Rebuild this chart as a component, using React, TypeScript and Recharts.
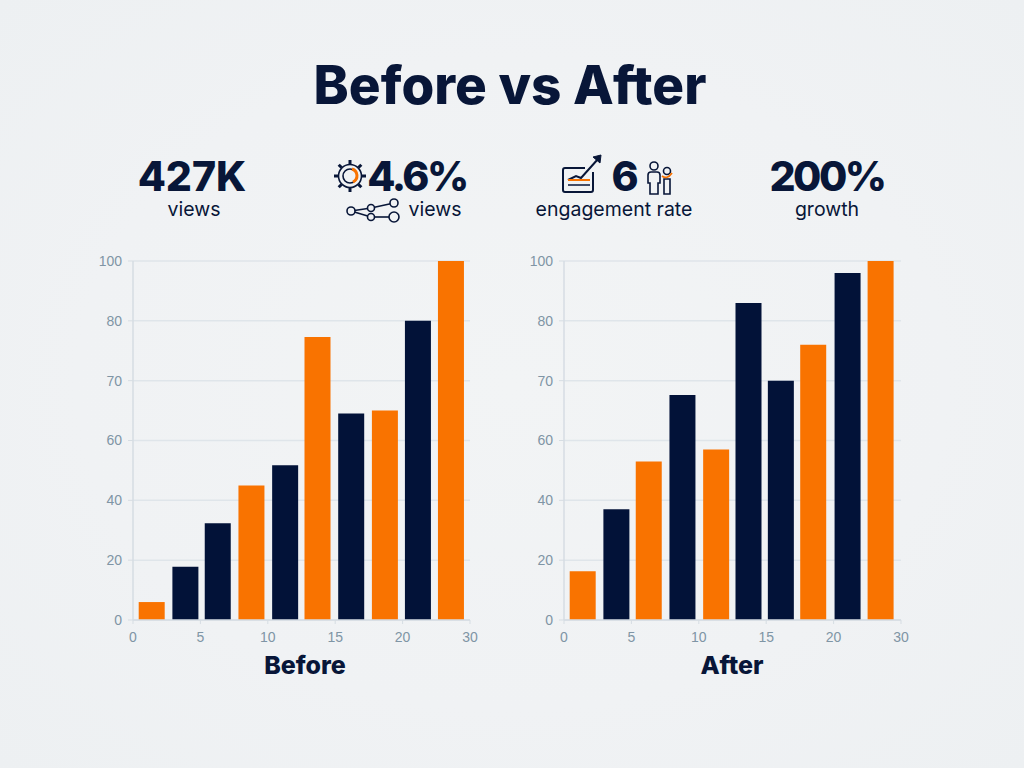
import React from "react";
import { BarChart, Bar, XAxis, YAxis, CartesianGrid, Cell } from "recharts";

const NAVY = "#021238";
const ORANGE = "#f97300";
const INK = "#081638";

const yTickLabels = [0, 20, 40, 60, 70, 80, 100];
const xTickLabels = [0, 5, 10, 15, 20, 30];
const beforeBins = [1.4, 3.9, 6.3, 8.8, 11.3, 13.7, 16.2, 18.7, 22.3, 27.2];
const afterBins = [1.4, 3.9, 6.3, 8.8, 11.3, 13.7, 16.1, 18.5, 22.1, 27.0];
const beforeValues = [6, 17.8, 32.3, 45, 51.7, 77.3, 64.5, 65, 80, 100];
const afterValues = [16.3, 37, 53, 67.6, 57, 86, 70, 76, 96, 100];
const beforeKinds = ["o", "n", "n", "o", "n", "o", "n", "o", "n", "o"];
const afterKinds = ["o", "n", "o", "n", "o", "n", "n", "o", "n", "o"];

// The reference's axes are evenly spaced but their labels are not, so values map piecewise.
const toSlot = (labels: number[], v: number) => {
  for (let i = 1; i < labels.length; i++) {
    if (v <= labels[i]) return i - 1 + (v - labels[i - 1]) / (labels[i] - labels[i - 1]);
  }
  return labels.length - 1;
};

const tableOf = (bins: number[], values: number[], kinds: string[]) =>
  values.map((v, i) => ({
    x: toSlot(xTickLabels, bins[i]),
    y: toSlot(yTickLabels, v),
    kind: kinds[i],
  }));

const tickStyle = { fontFamily: "'Liberation Sans', Arial, sans-serif", fontSize: 14, fill: "#7f95a5" };
const axisLine = { stroke: "#d6dde3", strokeWidth: 1.5 };

function Panel({ left, bins, values, kinds }: { left: number; bins: number[]; values: number[]; kinds: string[] }) {
  return (
    <div style={{ position: "absolute", left, top: 250 }}>
      <BarChart
        width={400}
        height={400}
        data={tableOf(bins, values, kinds)}
        margin={{ top: 11, right: 10, bottom: 0, left: 0 }}
      >
        <CartesianGrid vertical={false} stroke="#dfe5ea" strokeWidth={1.5} />
        <XAxis
          type="number"
          dataKey="x"
          domain={[0, 5]}
          ticks={[0, 1, 2, 3, 4, 5]}
          tickFormatter={(i: number) => String(xTickLabels[i])}
          tick={tickStyle}
          tickLine={{ stroke: "#d6dde3" }}
          tickSize={4}
          tickMargin={8}
          axisLine={axisLine}
          height={30}
          interval={0}
        />
        <YAxis
          type="number"
          domain={[0, 6]}
          ticks={[0, 1, 2, 3, 4, 5, 6]}
          tickFormatter={(i: number) => String(yTickLabels[i])}
          tick={tickStyle}
          tickLine={{ stroke: "#d6dde3" }}
          tickSize={5}
          tickMargin={6}
          axisLine={axisLine}
          width={53}
          interval={0}
        />
        <Bar dataKey="y" barSize={26} isAnimationActive={false}>
          {values.map((_, i) => (
            <Cell key={i} fill={kinds[i] === "o" ? ORANGE : NAVY} />
          ))}
        </Bar>
      </BarChart>
    </div>
  );
}

const font = "Inter, 'Noto Sans', sans-serif";

function Label({ text, cx, cy, size, weight, spacing = 0 }: { text: string; cx: number; cy: number; size: number; weight: number; spacing?: number }) {
  const h = Math.round(size * 1.1);
  return (
    <div
      style={{
        position: "absolute",
        left: cx - 200,
        top: cy - h / 2,
        width: 400,
        height: h,
        lineHeight: `${h}px`,
        textAlign: "center",
        fontFamily: font,
        fontSize: size,
        fontWeight: weight,
        letterSpacing: spacing,
        color: INK,
        whiteSpace: "nowrap",
      }}
    >
      {text}
    </div>
  );
}

function Icons() {
  const s = { fill: "none", stroke: INK, strokeWidth: 1.6 };
  const teeth = [0, 45, 90, 135, 180, 225, 270, 315];
  const net: number[][] = [[351, 211, 371, 208], [351, 211, 371, 217], [371, 208, 394, 203], [371, 217, 394, 217]];
  const nodes: number[][] = [[351, 211, 4], [371, 208, 3.5], [371, 217, 3.5], [394, 203, 4], [394, 217, 5]];
  return (
    <svg width={1024} height={768} style={{ position: "absolute", left: 0, top: 0 }}>
      <circle cx={350} cy={176} r={11.5} {...s} />
      {teeth.map((a) => (
        <line key={a} x1={350} y1={164} x2={350} y2={160} {...s} strokeWidth={3} transform={`rotate(${a} 350 176)`} />
      ))}
      <circle cx={350} cy={176} r={7} {...s} />
      <path d="M352 169 A7 7 0 0 1 353 182" fill="none" stroke={ORANGE} strokeWidth={3} />
      {net.map((n, i) => (
        <line key={i} x1={n[0]} y1={n[1]} x2={n[2]} y2={n[3]} {...s} />
      ))}
      {nodes.map((n, i) => (
        <circle key={i} cx={n[0]} cy={n[1]} r={n[2]} fill="#f0f2f4" stroke={INK} strokeWidth={1.6} />
      ))}
      <path d="M585 168 H565 Q563 168 563 170 V190 Q563 192 565 192 H591 Q593 192 593 190 V172" {...s} strokeWidth={2} />
      <path d="M568 180 L576 176 L581 178 L598 159" {...s} strokeWidth={2} />
      <path d="M593 157 L601 155 L600 163 Z" fill={INK} stroke={INK} />
      <line x1={568} y1={180} x2={590} y2={180} stroke={ORANGE} strokeWidth={2} />
      <line x1={568} y1={185} x2={590} y2={185} stroke={INK} strokeWidth={1.5} />
      <circle cx={654} cy={166} r={4} {...s} />
      <path d="M648 183 V175 Q648 172 651 172 H657 Q660 172 660 175 V183 H658 V194 H650 V183 Z" {...s} />
      <circle cx={667} cy={171} r={3.5} {...s} />
      <path d="M664 179 H670 V194 H664 Z" {...s} />
      <path d="M662 176 Q667 180 672 173" fill="none" stroke={ORANGE} strokeWidth={1.8} />
    </svg>
  );
}

export default function App() {
  return (
    <div
      style={{
        position: "absolute",
        left: 0,
        top: 0,
        width: 1024,
        height: 768,
        overflow: "hidden",
        background: "radial-gradient(ellipse at center, #f2f4f5 0%, #f0f2f4 60%, #edf0f2 100%)",
      }}
    >
      <Label text="Before vs After" cx={510} cy={85} size={53} weight={800} />
      <Label text="427K" cx={192} cy={176} size={41} weight={800} />
      <Label text="views" cx={194} cy={209} size={19.5} weight={400} />
      <Label text="4.6%" cx={417} cy={176} size={41} weight={800} spacing={-2.5} />
      <Label text="views" cx={435} cy={209} size={19.5} weight={400} />
      <Label text="6" cx={625} cy={176} size={41} weight={800} />
      <Label text="engagement rate" cx={614} cy={209} size={19.5} weight={400} />
      <Label text="200%" cx={827} cy={176} size={41} weight={800} spacing={-2.5} />
      <Label text="growth" cx={827} cy={209} size={19.5} weight={400} />
      <Icons />
      <Panel left={80} bins={beforeBins} values={beforeValues} kinds={beforeKinds} />
      <Panel left={511} bins={afterBins} values={afterValues} kinds={afterKinds} />
      <Label text="Before" cx={305} cy={665} size={25} weight={800} />
      <Label text="After" cx={732} cy={665} size={25} weight={800} />
    </div>
  );
}
